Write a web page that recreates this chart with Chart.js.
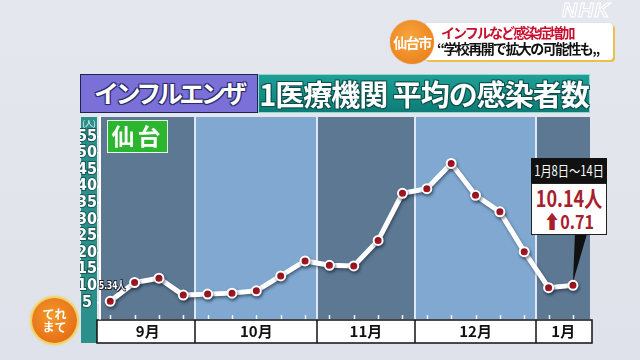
<!DOCTYPE html>
<html><head><meta charset="utf-8">
<script src="https://cdn.jsdelivr.net/npm/chart.js@4.4.1/dist/chart.umd.min.js"></script>
<style>
html,body{margin:0;padding:0;background:#e2e5ec;}
#wrap{position:relative;width:640px;height:360px;overflow:hidden;background:linear-gradient(#e5e7ee,#dfe2ea);font-family:"Noto Sans CJK JP",sans-serif;}
canvas{position:absolute;left:0;top:0;}
.abs{position:absolute;box-sizing:border-box;}
.fit{position:absolute;left:50%;white-space:nowrap;}
#t1{left:80px;top:74px;width:178px;height:39px;background:#7a70d8;border:1.5px solid #1e2450;color:#fff;font-weight:bold;font-size:25px;line-height:35px;text-align:center;letter-spacing:-3.5px;text-shadow:0 0 2px #2a2a66,1px 1px 0 #2a2a66,-1px -1px 0 #2a2a66,1px -1px 0 #2a2a66,-1px 1px 0 #2a2a66;}
#t2{left:258px;top:74px;width:332px;height:39px;background:linear-gradient(#1fa096,#0d7c76);border:1px solid #8fd7d2;color:#fff;font-weight:bold;font-size:29px;line-height:36px;text-align:center;letter-spacing:-1px;text-shadow:1px 1px 0 #0a4f4b,-1px -1px 0 #0a4f4b,1px -1px 0 #0a4f4b,-1px 1px 0 #0a4f4b;}
#sendai{left:107px;top:120px;width:61px;height:33px;background:#2cb52f;border:1.5px solid #e6f4e6;color:#fff;font-weight:bold;font-size:23px;line-height:29px;text-align:center;letter-spacing:3px;white-space:nowrap;}
#unit{left:81px;top:118px;width:16px;font-size:8px;color:#fff;text-align:center;line-height:10px;}
#first{left:99px;top:278px;font-size:11px;font-weight:bold;color:#fff;font-family:"Liberation Sans Narrow","DejaVu Sans Condensed",sans-serif;transform:scaleX(0.75);transform-origin:left top;text-shadow:1px 1px 0 #223,-1px -1px 0 #223,1px -1px 0 #223,-1px 1px 0 #223;white-space:nowrap;}
#hdr{left:531px;top:158px;width:76px;height:26px;background:#111;color:#fff;font-size:14px;line-height:25px;}
#hdr .fit{top:0;transform:translateX(-50%) scaleX(0.8);}
#box{left:531px;top:183px;width:76px;height:52px;background:#fff;border:1px solid #222;color:#a8202b;font-weight:bold;}
#box .a{font-size:22px;line-height:25px;top:1px;transform:translateX(-50%) scaleX(0.82);}
#box .b{font-size:19px;line-height:21px;top:26px;transform:translateX(-50%) scaleX(0.85);}
#circle{left:390px;top:20px;width:44px;height:44px;border-radius:50%;background:radial-gradient(circle at 45% 40%,#f8a640,#e77812);color:#fff;font-size:14px;font-weight:bold;line-height:44px;text-align:center;letter-spacing:-1.5px;z-index:2;box-shadow:0 0 1px #c96a10;white-space:nowrap;}
#banner{left:424px;top:23px;width:189px;height:37px;background:#fff;border-radius:4px;box-shadow:2px 2px 0 #ecc04a,0 0 1px #bbb;}
#l1{left:441px;top:24px;color:#c8102e;font-weight:bold;font-size:14px;letter-spacing:-1.9px;white-space:nowrap;line-height:17px;}
#l2{left:437px;top:40px;color:#111;font-weight:bold;font-size:14px;letter-spacing:-1.6px;white-space:nowrap;line-height:17px;}
#nhk{left:562px;top:-2px;font-family:"Liberation Sans",sans-serif;font-style:italic;font-weight:bold;font-size:21px;color:transparent;-webkit-text-stroke:1.1px #fff;letter-spacing:1px;}
#tere{left:32px;top:298px;width:45px;height:45px;border-radius:50%;background:radial-gradient(circle at 45% 40%,#f39a2a,#e2600f);box-shadow:0 0 2px 2px #f3d24a;color:#fff;font-size:12px;font-weight:bold;line-height:13px;text-align:center;padding-top:9px;}
</style></head>
<body>
<div id="wrap">
<canvas id="c" width="640" height="360"></canvas>
<div class="abs" id="t1">インフルエンザ</div>
<div class="abs" id="t2">1医療機関 平均の感染者数</div>
<div class="abs" id="sendai">仙台</div>
<div class="abs" id="unit">(人)</div>
<div class="abs" id="first"></div>
<div class="abs" id="hdr"><span class="fit">1月8日～14日</span></div>
<div class="abs" id="box"><span class="fit a" id="latest"></span><span class="fit b" id="diff"></span></div>
<div class="abs" id="banner"></div>
<div class="abs" id="circle">仙台市</div>
<div class="abs" id="l1">インフルなど感染症増加</div>
<div class="abs" id="l2">“学校再開で拡大の可能性も„</div>
<div class="abs" id="nhk">NHK</div>
<div class="abs" id="tere">てれ<br>まて</div>
</div>
<script>
// ---- data ----
const months = ['9月','10月','11月','12月','1月'];
const weeksPerMonth = [4,5,4,5,2];
const cases = [5.34,11.0,12.3,7.2,7.5,7.8,8.5,13.0,17.5,16.2,16.0,23.7,37.9,39.3,46.9,37.3,32.3,20.3,9.43,10.14];
const yTickValues = [5,10,15,20,25,30,35,40,45,50,55];
const latestChange = 0.71;

// ---- text from data ----
document.getElementById('first').textContent = cases[0].toFixed(2) + '人';
document.getElementById('latest').textContent = cases[cases.length-1].toFixed(2) + '人';
document.getElementById('diff').textContent = '⬆' + latestChange.toFixed(2);

const X_MIN = -0.42, X_MAX = 19.7;
const edges = [X_MIN];
{ let c = 0; weeksPerMonth.forEach((n,i)=>{ c += n; edges.push(i === weeksPerMonth.length-1 ? X_MAX : c - 0.5); }); }
const centers = months.map((m,i)=> (edges[i]+edges[i+1])/2);

const DARK = '#5d7893', LIGHT = '#80a8d0';

const bgPlugin = {
  id:'bg',
  beforeDraw(chart){
    const ctx = chart.ctx, a = chart.chartArea, x = chart.scales.x;
    ctx.save();
    ctx.fillStyle = '#2b8f8b';
    ctx.fillRect(a.left-19, a.top, 16, a.bottom+24-a.top);
    for (let i=0;i<months.length;i++){
      const x0 = x.getPixelForValue(edges[i]), x1 = x.getPixelForValue(edges[i+1]);
      ctx.fillStyle = i%2===0 ? DARK : LIGHT;
      ctx.fillRect(x0, a.top, x1-x0, a.bottom-a.top);
    }
    ctx.strokeStyle = 'rgba(225,236,248,0.95)';
    ctx.lineWidth = 2;
    for (let i=1;i<months.length;i++){
      const px = Math.round(x.getPixelForValue(edges[i]));
      ctx.beginPath(); ctx.moveTo(px, a.top); ctx.lineTo(px, a.bottom); ctx.stroke();
    }
    const bt = a.bottom+1, bh = 23;
    ctx.fillStyle = '#fff';
    ctx.fillRect(a.left-3, bt, a.right-a.left+5, bh);
    ctx.strokeStyle = '#111'; ctx.lineWidth = 1.5;
    ctx.strokeRect(a.left-3, bt, a.right-a.left+5, bh);
    for (let i=1;i<months.length;i++){
      const px = Math.round(x.getPixelForValue(edges[i]));
      ctx.beginPath(); ctx.moveTo(px, bt); ctx.lineTo(px, bt+bh); ctx.stroke();
    }
    ctx.restore();
  },
  beforeDatasetsDraw(chart){
    const ctx = chart.ctx, a = chart.chartArea, x = chart.scales.x;
    ctx.save();
    ctx.strokeStyle = '#f0f4fa'; ctx.lineWidth = 1.5;
    cases.forEach((v,i)=>{
      const px = Math.round(x.getPixelForValue(i))+0.5;
      ctx.beginPath(); ctx.moveTo(px, a.bottom-4); ctx.lineTo(px, a.bottom); ctx.stroke();
    });
    const pts = chart.getDatasetMeta(0).data;
    const p = pts[pts.length-1];
    ctx.fillStyle = '#111';
    ctx.beginPath();
    ctx.moveTo(p.x+2, 234); ctx.lineTo(p.x+14, 234); ctx.lineTo(p.x, p.y-3); ctx.closePath(); ctx.fill();
    ctx.restore();
  },
  beforeDatasetDraw(chart){
    const ctx = chart.ctx; ctx.save();
    ctx.shadowColor = 'rgba(20,30,50,0.5)'; ctx.shadowOffsetY = 2; ctx.shadowOffsetX = 1; ctx.shadowBlur = 3;
  },
  afterDatasetDraw(chart){ chart.ctx.restore(); }
};

new Chart(document.getElementById('c'), {
  type:'line',
  data:{ datasets:[{
    data: cases.map((v,i)=>({x:i,y:v})),
    borderColor:'#ffffff', borderWidth:5, tension:0,
    pointBackgroundColor:'#b3141e', pointBorderColor:'#ffffff', pointBorderWidth:2, pointRadius:4.5
  }]},
  options:{
    responsive:false, animation:false, events:[],
    layout:{padding:{left:80,right:50,top:117,bottom:17}},
    plugins:{legend:{display:false},tooltip:{enabled:false}},
    scales:{
      x:{type:'linear',min:X_MIN,max:X_MAX,
        afterBuildTicks(s){ s.ticks = centers.map(v=>({value:v})); },
        afterFit(s){ s.height = 24; },
        ticks:{callback:(v,i)=>months[i], color:'#111', autoSkip:false, maxRotation:0, padding:3,
          font:{family:'"Noto Sans CJK JP",sans-serif', size:15, weight:'bold'}},
        grid:{display:false, drawTicks:false}, border:{display:false}},
      y:{min:0,max:60.9,
        afterBuildTicks(s){ s.ticks = yTickValues.map(v=>({value:v})); },
        afterFit(s){ s.width = 20; },
        ticks:{color:'#ffffff', padding:0, autoSkip:false, crossAlign:'center', textStrokeColor:'#1a5856', textStrokeWidth:2,
          font:{family:'"Liberation Sans Narrow","DejaVu Sans Condensed",sans-serif', size:16, weight:'bold'}},
        grid:{drawOnChartArea:false, color:'#ffffff', tickLength:3, lineWidth:1.5},
        border:{display:true,color:'#ffffff',width:2}}
    }
  },
  plugins:[bgPlugin]
});
</script>
</body></html>
